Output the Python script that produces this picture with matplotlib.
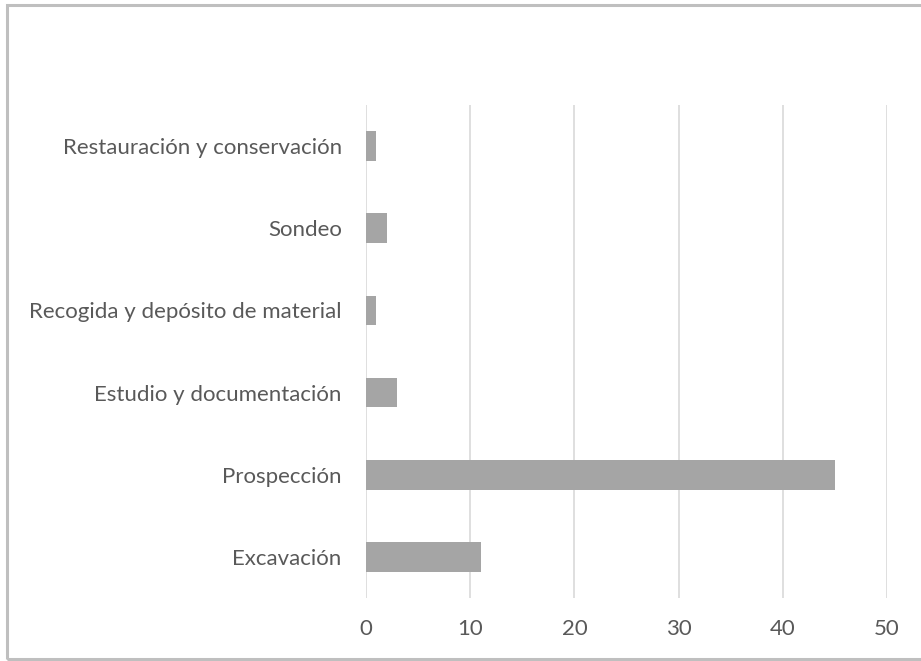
import matplotlib
matplotlib.use("Agg")
from matplotlib import pyplot as plt
from matplotlib.patches import Rectangle

# Activity types and number of interventions
categories = ["Excavación", "Prospección", "Estudio y documentación",
              "Recogida y depósito de material", "Sondeo",
              "Restauración y conservación"]
values = [11, 45, 3, 1, 2, 1]
ticks = [0, 10, 20, 30, 40, 50]

plt.rcParams['font.family'] = ['Lato', 'DejaVu Sans']

fig = plt.figure(figsize=(9.21, 6.61), dpi=100)
ax = fig.add_axes([0.3974, 0.0953, 0.5657, 0.7458])

ax.barh(range(len(categories)), values, height=0.36, color="#a5a5a5", zorder=3)
ax.set_yticks(range(len(categories)))
ax.set_yticklabels(categories)
ax.set_ylim(-0.5, len(categories) - 0.5)
ax.set_xlim(0, 50)
ax.set_xticks(ticks)

ax.grid(axis="x", color="#d9d9d9", linewidth=1.2, zorder=0)
for s in ax.spines.values():
    s.set_visible(False)
ax.tick_params(length=0, labelsize=16, colors="#595959", pad=17.5)
ax.tick_params(axis="x", pad=15)

# Outer chart border (right edge falls outside the image)
fig.patches.append(Rectangle((0.0076, 0.003), 1.05, 0.9894, transform=fig.transFigure,
                             fill=False, edgecolor="#bfbfbf", linewidth=2.2))

fig.savefig("out.png", dpi=100)
